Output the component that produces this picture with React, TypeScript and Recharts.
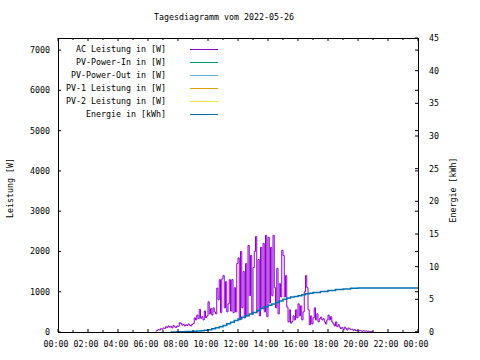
import React from 'react'
import { LineChart, Line, XAxis, YAxis } from 'recharts'

// AC power in W, one value every 5 minutes starting at 06:30
const acStartHour = 6.5
const acPower = [
  20, 40, 60, 50, 80, 70,
  100, 90, 130, 110, 150, 120, 140, 100, 160, 130, 110, 150,
  140, 230, 210, 170, 190, 150, 180, 160, 200, 170, 150, 190,
  210, 350, 300, 420, 330, 560, 340, 380, 300, 520, 360, 400,
  750, 450, 580, 420, 600, 500, 450, 1090, 800, 1300, 480, 1320,
  1400, 600, 1250, 500, 700, 1300, 520, 1300, 480, 1100, 500, 1700,
  1840, 300, 2000, 600, 1500, 350, 1700, 400, 2150, 900, 1900, 450,
  1600, 2000, 2370, 500, 1800, 400, 2100, 600, 2200, 500, 2400, 380,
  2350, 720, 2100, 900, 2400, 1100, 600, 1580, 450, 1200, 870, 2030,
  1900, 870, 1400, 620, 250, 550, 220, 260, 400, 300, 550, 350,
  700, 400, 650, 300, 500, 1000, 1400, 1100, 550, 180, 400, 200,
  350, 600, 300, 450, 250, 330, 370, 300, 330, 250, 200, 300,
  420, 300, 380, 250, 200, 150, 250, 130, 180, 120, 80, 110,
  60, 120, 90, 50, 100, 80, 60, 70, 40, 60, 30, 40,
  20, 40, 30, 20, 30, 20, 25, 15, 20, 10, 15, 0,
  0,
]

// cumulated energy in kWh
const energyHours = [
  7.5, 7.75, 8, 8.25, 8.5, 8.75, 9, 9.25, 9.5, 9.75, 10, 10.25, 10.5, 10.75,
  11, 11.25, 11.5, 11.75, 12, 12.25, 12.5, 12.75, 13, 13.25, 13.5, 13.75,
  14, 14.25, 14.5, 14.75, 15, 15.25, 15.5, 15.75, 16, 16.25, 16.5, 16.75,
  17, 17.5, 18, 18.5, 19, 19.5, 20, 24,
]
const energyKwh = [
  0, 0, 0.02, 0.04, 0.06, 0.08, 0.1, 0.15, 0.2, 0.27, 0.35, 0.5, 0.65, 0.82,
  1.0, 1.25, 1.5, 1.75, 2.0, 2.25, 2.5, 2.75, 3.0, 3.3, 3.6, 3.85,
  4.1, 4.3, 4.5, 4.75, 5.0, 5.2, 5.35, 5.45, 5.55, 5.7, 5.85, 5.95,
  6.05, 6.2, 6.35, 6.5, 6.6, 6.68, 6.72, 6.72,
]

const hourTicks = [0, 1, 2, 3, 4, 5, 6, 7, 8, 9, 10, 11, 12, 13, 14, 15, 16, 17, 18, 19, 20, 21, 22, 23, 24]
const powerTicks = [0, 1000, 2000, 3000, 4000, 5000, 6000, 7000]
const energyTicks = [0, 5, 10, 15, 20, 25, 30, 35, 40, 45]

const legendNames = ['AC Leistung in [W]', 'PV-Power-In in [W]', 'PV-Power-Out in [W]', 'PV-1 Leistung in [W]', 'PV-2 Leistung in [W]', 'Energie in [kWh]']
const legendColors = ['#9400d3', '#009e73', '#56b4e9', '#e69f00', '#f0e442', '#0072b2']

const acData = acPower.map((w, i) => ({ t: acStartHour + i / 12, w }))
const energyData = energyHours.map((t, i) => ({ t, e: energyKwh[i] }))

const W = 480
const H = 360
const LEFT = 58
const RIGHT = 418
const TOP = 38
const BOTTOM = 332
const font = '"DejaVu Sans Mono", monospace'
const fs = 8.3

const hh = (h: number) => `${String(h % 24).padStart(2, '0')}:00`

function XTick({ x, payload }: any) {
  const h = payload.value
  const major = h % 2 === 0
  const len = major ? 3 : 2
  return (
    <g>
      <line x1={x} x2={x} y1={BOTTOM} y2={BOTTOM - len} stroke="#000" />
      <line x1={x} x2={x} y1={TOP} y2={TOP + len} stroke="#000" />
      {major && (
        <text x={x - 2} y={347} textAnchor="middle" fontFamily={font} fontSize={fs} fill="#000">
          {hh(h)}
        </text>
      )}
    </g>
  )
}

function LeftTick({ y, payload }: any) {
  return (
    <g>
      <line x1={LEFT} x2={LEFT + 3} y1={y} y2={y} stroke="#000" />
      <line x1={RIGHT} x2={RIGHT - 3} y1={y} y2={y} stroke="#000" />
      <text x={50} y={y + 3} textAnchor="end" fontFamily={font} fontSize={fs} fill="#000">
        {payload.value}
      </text>
    </g>
  )
}

function RightTick({ y, payload }: any) {
  return (
    <g>
      <line x1={RIGHT} x2={RIGHT - 3} y1={y} y2={y} stroke="#000" />
      <text x={429} y={y + 3} textAnchor="start" fontFamily={font} fontSize={fs} fill="#000">
        {payload.value}
      </text>
    </g>
  )
}

export default function App() {
  return (
    <div style={{ position: 'absolute', left: 0, top: 0, width: W, height: H, background: '#fff' }}>
      <LineChart width={W} height={H} margin={{ top: TOP, right: 0, bottom: 0, left: 0 }}>
        <XAxis
          type="number"
          dataKey="t"
          domain={[0, 24]}
          ticks={hourTicks}
          interval={0}
          height={H - BOTTOM}
          axisLine={false}
          tickLine={false}
          tick={<XTick />}
          allowDataOverflow
        />
        <YAxis
          yAxisId="left"
          domain={[0, 7300]}
          ticks={powerTicks}
          interval={0}
          width={LEFT}
          axisLine={false}
          tickLine={false}
          tick={<LeftTick />}
        />
        <YAxis
          yAxisId="right"
          orientation="right"
          domain={[0, 45]}
          ticks={energyTicks}
          interval={0}
          width={W - RIGHT}
          axisLine={false}
          tickLine={false}
          tick={<RightTick />}
        />
        <Line yAxisId="left" data={acData} dataKey="w" type="stepAfter" stroke={legendColors[0]} strokeWidth={1} dot={false} isAnimationActive={false} />
        <Line yAxisId="right" data={energyData} dataKey="e" type="stepAfter" stroke={legendColors[5]} strokeWidth={1.5} dot={false} isAnimationActive={false} />
      </LineChart>
      <svg width={W} height={H} style={{ position: 'absolute', left: 0, top: 0, pointerEvents: 'none' }} fontFamily={font} fontSize={fs}>
        <rect x={LEFT + 0.5} y={TOP + 0.5} width={RIGHT - LEFT} height={BOTTOM - TOP} fill="none" stroke="#000" />
        <text x={224} y={20} textAnchor="middle">Tagesdiagramm vom 2022-05-26</text>
        <text x={13} y={188} textAnchor="middle" transform="rotate(-90 13 188)">Leistung [W]</text>
        <text x={456} y={190} textAnchor="middle" transform="rotate(-90 456 190)">Energie [kWh]</text>
        {legendNames.map((name, i) => (
          <g key={name}>
            <text x={166} y={49 + i * 13 + 3} textAnchor="end">{name}</text>
            <line x1={190} x2={218} y1={49.5 + i * 13} y2={49.5 + i * 13} stroke={legendColors[i]} />
          </g>
        ))}
      </svg>
    </div>
  )
}
